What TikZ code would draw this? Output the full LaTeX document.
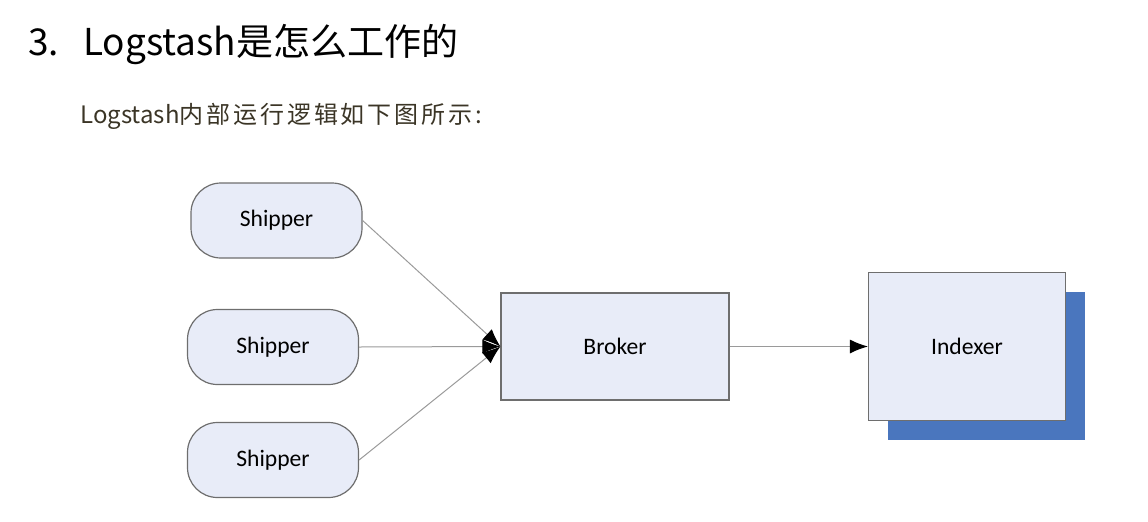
\documentclass[tikz,border=0pt]{standalone}
\usepackage{fontspec}
\usepackage{tikz}
\usetikzlibrary{arrows.meta,shadows}
\setmainfont{Carlito}
\newfontfamily\cjk{Noto Sans CJK SC}
\newfontfamily\cjkwide[LetterSpace=12]{Noto Sans CJK SC}
\definecolor{boxfill}{HTML}{E8ECF8}
\definecolor{boxline}{HTML}{6E6E6E}
\definecolor{shadowblue}{HTML}{4A76BE}
\definecolor{linkgray}{HTML}{9A9A9A}
\definecolor{subtext}{HTML}{3B3526}
\tikzset{
  shipper/.style={draw=boxline,fill=boxfill,line width=.6pt,rounded corners=15pt,
    minimum width=85.5pt,minimum height=37.5pt,inner sep=0pt,font=\fontsize{11.8}{14}\selectfont},
  stage/.style={draw=boxline,fill=boxfill,line width=.6pt,
    inner sep=0pt,font=\fontsize{11.8}{14}\selectfont},
  link/.style={draw=linkgray,line width=.5pt,-{Latex[length=9pt,width=7pt,color=black]}}
}
\begin{document}
\begin{tikzpicture}[x=.5pt,y=-.5pt]
\useasboundingbox (0,0) rectangle (1148,521);
\node[anchor=base west,inner sep=0pt,font=\cjk\fontsize{18.5}{22}\selectfont] (title) at (28,55) {3.\hspace{12pt}Logstash是怎么工作的};
\node[anchor=base west,inner sep=0pt,text=subtext,font=\fontsize{12}{14}\selectfont] (intro) at (80,123) {\cjk Logstash\cjkwide 内部运行逻辑如下图所示:};
\node[shipper] (ship1) at (276.5,220.5) {Shipper};
\node[shipper] (ship2) at (273,347) {Shipper};
\node[shipper] (ship3) at (273,460) {Shipper};
\node[stage,minimum width=114pt,minimum height=53.5pt] (broker) at (615,346.5) {Broker};
\node[stage,minimum width=98.5pt,minimum height=74pt,
  drop shadow={shadow xshift=9.5pt,shadow yshift=-9.5pt,fill=shadowblue,opacity=1}] (indexer) at (967,346.5) {Indexer};
\draw[link] (ship1.east) -- (broker.west);
\draw[link] (ship2.east) -- (broker.west);
\draw[link] (ship3.east) -- (broker.west);
\draw[link] (broker.east) -- (indexer.west);
\end{tikzpicture}
\end{document}
